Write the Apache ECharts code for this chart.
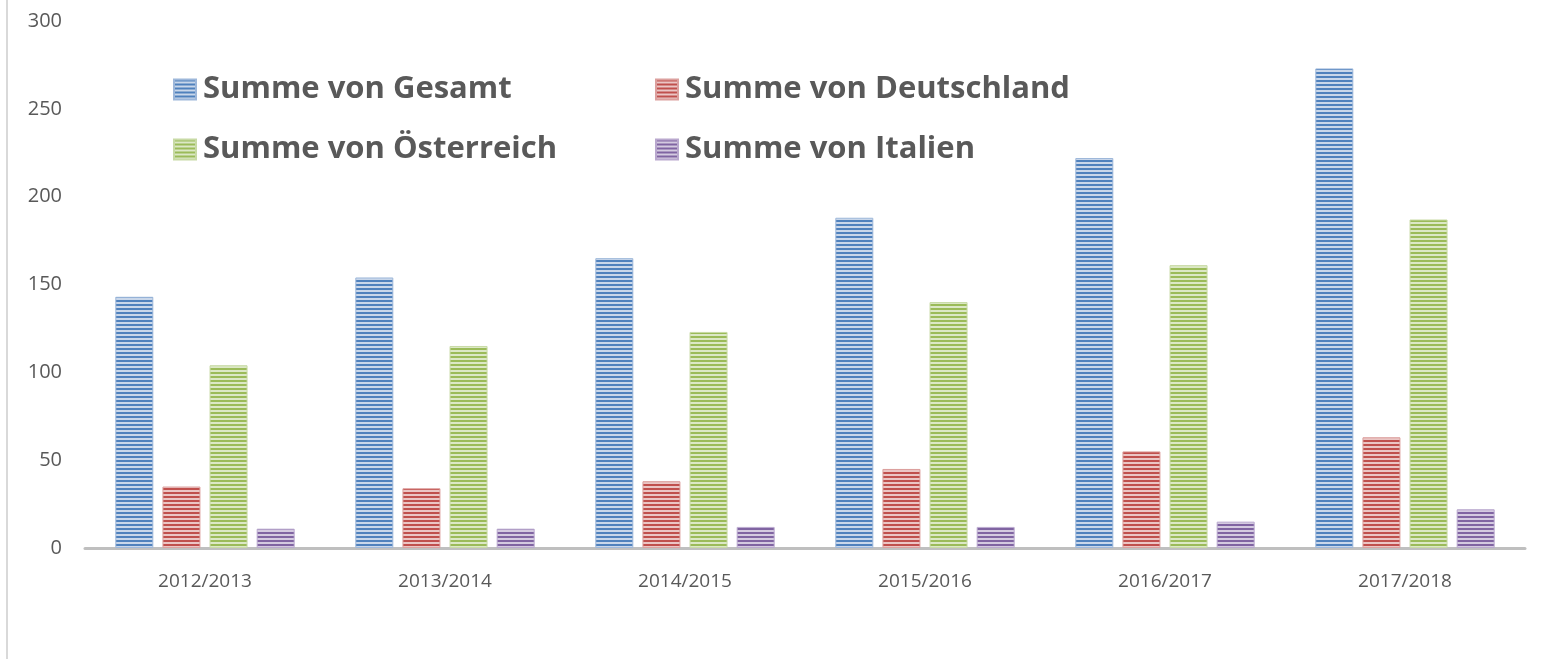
<!DOCTYPE html>
<html>
<head>
<meta charset="utf-8">
<script src="https://cdn.jsdelivr.net/npm/echarts@6/dist/echarts.min.js"></script>
<style>html,body{margin:0;padding:0;background:#fff}#c{width:1547px;height:659px}</style>
</head>
<body>
<div id="c"></div>
<script>
const categories = ['2012/2013','2013/2014','2014/2015','2015/2016','2016/2017','2017/2018'];
const gesamt      = [143, 154, 165, 188, 222, 273];
const deutschland = [35, 34, 38, 45, 55, 63];
const oesterreich = [104, 115, 123, 140, 161, 187];
const italien     = [11, 11, 12, 12, 15, 22];
const yTicks = [0, 50, 100, 150, 200, 250, 300];

function stripes(dark, light) {
  const c = document.createElement('canvas');
  c.width = 4; c.height = 4;
  const g = c.getContext('2d');
  g.fillStyle = light; g.fillRect(0, 0, 4, 4);
  g.fillStyle = dark; g.fillRect(0, 0, 4, 2);
  return { image: c, repeat: 'repeat' };
}
const fills = [
  stripes('#4F81BD', '#C9D7EA'),
  stripes('#C0504D', '#EBC6C5'),
  stripes('#9BBB59', '#DCE8C6'),
  stripes('#8064A2', '#D4CAE0')
];
const edge = ['#9DB7DA', '#DCA09E', '#C8DAA5', '#B9A8CE'];
const txt = '#595959';
const font = '"Open Sans", "DejaVu Sans", sans-serif';

function mk(name, data, i) {
  return {
    name, type: 'bar', data, barWidth: 38, barGap: '24%',
    itemStyle: { color: fills[i], borderColor: edge[i], borderWidth: 1 },
    emphasis: { disabled: true }
  };
}

const legendText = { fontFamily: font, fontWeight: 'bold', fontSize: 31, color: txt, padding: [0, 0, 0, 2] };

const chart = echarts.init(document.getElementById('c'));
chart.setOption({
  animation: false,
  backgroundColor: '#fff',
  grid: { left: 85, right: 22, top: 21, bottom: 111 },
  graphic: [{ type: 'line', shape: { x1: 7, y1: 0, x2: 7, y2: 659 }, style: { stroke: '#D9D9D9', lineWidth: 2 } }],
  legend: [
    { data: ['Summe von Gesamt', 'Summe von Österreich'], orient: 'vertical', left: 168, top: 69,
      icon: 'rect', itemWidth: 22, itemHeight: 20, itemGap: 29, textStyle: legendText },
    { data: ['Summe von Deutschland', 'Summe von Italien'], orient: 'vertical', left: 650, top: 69,
      icon: 'rect', itemWidth: 22, itemHeight: 20, itemGap: 29, textStyle: legendText }
  ],
  xAxis: {
    type: 'category', data: categories,
    axisLine: { lineStyle: { color: '#BFBFBF', width: 3 } },
    axisTick: { show: false },
    axisLabel: { color: txt, fontSize: 19, fontFamily: font, margin: 24 }
  },
  yAxis: {
    type: 'value', min: yTicks[0], max: yTicks[yTicks.length - 1], interval: 50,
    axisLine: { show: false }, axisTick: { show: false }, splitLine: { show: false },
    axisLabel: { color: txt, fontSize: 20, fontFamily: font, margin: 23 }
  },
  series: [
    mk('Summe von Gesamt', gesamt, 0),
    mk('Summe von Deutschland', deutschland, 1),
    mk('Summe von Österreich', oesterreich, 2),
    mk('Summe von Italien', italien, 3)
  ]
});
</script>
</body>
</html>
